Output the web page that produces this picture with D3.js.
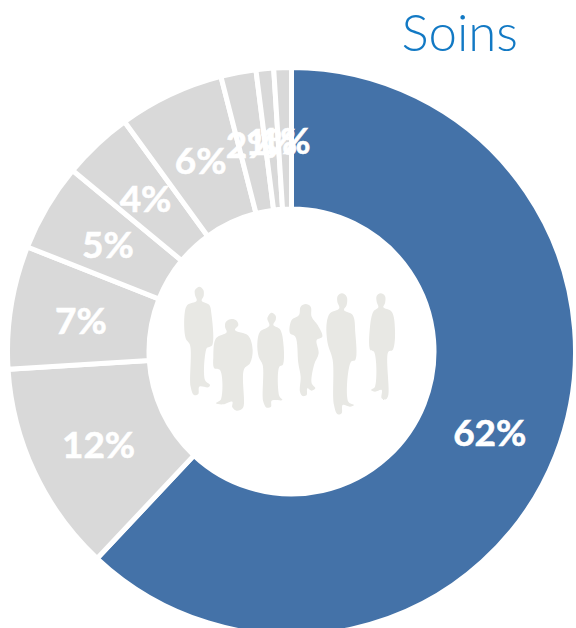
<!DOCTYPE html>
<html><head><meta charset="utf-8">
<script src="https://cdn.jsdelivr.net/npm/d3@7/dist/d3.min.js"></script>
<style>html,body{margin:0;padding:0;background:#fff;overflow:hidden}</style>
</head><body><svg id="c" width="576" height="628"></svg>
<script>
const title = "Soins";
const values = [62, 12, 7, 5, 4, 6, 2, 1, 1];
const labels = ["62%", "12%", "7%", "5%", "4%", "6%", "2%", "1%", "1%"];
const sliceColors = ["#4472A8", "#D9D9D9", "#D9D9D9", "#D9D9D9", "#D9D9D9", "#D9D9D9", "#D9D9D9", "#D9D9D9", "#D9D9D9"];
const people = [
 [[88,50],[100,60],[101,78],[95,92],[118,105],[124,130],[127,225],[115,232],[110,235],[105,330],[120,345],[115,352],[88,350],[85,372],[72,375],[62,350],[60,225],[47,205],[44,130],[52,105],[80,92],[75,75],[75,60]],
 [[185,147],[200,152],[205,165],[195,180],[235,197],[248,240],[240,280],[222,298],[222,400],[218,415],[200,422],[187,412],[187,395],[160,403],[138,400],[153,388],[150,300],[133,295],[130,260],[138,205],[170,187],[165,170],[168,155]],
 [[304,128],[317,137],[317,150],[310,165],[330,178],[341,230],[338,285],[328,290],[328,378],[337,390],[305,392],[303,410],[290,413],[280,395],[278,285],[266,260],[262,220],[270,185],[298,167],[292,145]],
 [[407,102],[422,110],[425,140],[443,165],[457,200],[440,210],[446,250],[432,285],[425,340],[436,355],[425,362],[412,355],[410,375],[398,378],[390,365],[392,320],[385,280],[376,200],[360,190],[365,150],[387,135],[392,110]],
 [[516,70],[530,80],[530,105],[522,120],[548,135],[556,190],[556,270],[543,275],[535,395],[552,405],[540,410],[518,405],[515,430],[503,433],[492,405],[488,270],[473,220],[470,160],[480,130],[508,115],[502,95],[503,78]],
 [[632,70],[645,78],[645,100],[640,112],[665,125],[675,180],[668,240],[655,245],[655,375],[648,388],[635,385],[635,360],[615,365],[603,360],[615,350],[612,245],[601,240],[600,170],[610,125],[625,112],[620,95],[620,78]]
];

const svg = d3.select("#c");
const cx = 291.5, cy = 351.5, outer = 284, inner = 142.5;
const g = svg.append("g").attr("transform", `translate(${cx},${cy})`);
const pie = d3.pie().sort(null).value(d => d)(values);
const arc = d3.arc().innerRadius(inner).outerRadius(outer);

g.selectAll("path.slice").data(pie).join("path").attr("class", "slice")
 .attr("d", arc).attr("fill", (d, i) => sliceColors[i])
 .attr("stroke", "#fff").attr("stroke-width", 5).attr("stroke-linejoin", "miter");

g.selectAll("text.lbl").data(pie).join("text").attr("class", "lbl")
 .attr("transform", d => `translate(${arc.centroid(d)})`)
 .attr("text-anchor", "middle").attr("dy", "0.42em")
 .attr("font-family", "Lato, 'Open Sans', sans-serif").attr("font-weight", 700)
 .attr("font-size", 37).attr("fill", "#fff").attr("stroke", "#fff").attr("stroke-width", 0.6)
 .text((d, i) => labels[i]);

svg.append("text").attr("x", 518).attr("y", 51).attr("text-anchor", "end")
 .attr("font-family", "Lato, sans-serif").attr("font-weight", 300)
 .attr("font-size", 51).attr("fill", "#1279C4").text(title);

const px = d3.scaleLinear().domain([0, 720]).range([170, 410]);
const py = d3.scaleLinear().domain([0, 480]).range([270, 430]);
const line = d3.line().x(d => px(d[0])).y(d => py(d[1])).curve(d3.curveCatmullRomClosed.alpha(0.5));
svg.selectAll("path.person").data(people).join("path").attr("class", "person")
 .attr("d", line).attr("fill", "#E8E8E4");
</script></body></html>
